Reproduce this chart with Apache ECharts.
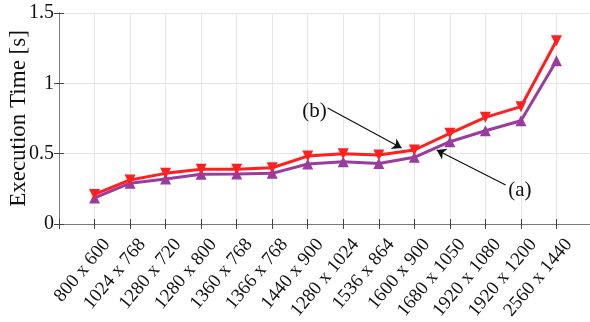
<!DOCTYPE html>
<html>
<head>
<meta charset="utf-8">
<script src="https://cdn.jsdelivr.net/npm/echarts@6/dist/echarts.min.js"></script>
<style>html,body{margin:0;padding:0;background:#fff}#c{width:590px;height:322px}</style>
</head>
<body>
<div id="c"></div>
<script>
var categories = ['800 x 600','1024 x 768','1280 x 720','1280 x 800','1360 x 768','1366 x 768','1440 x 900','1280 x 1024','1536 x 864','1600 x 900','1680 x 1050','1920 x 1080','1920 x 1200','2560 x 1440'];
var seriesB = [0.21,0.313,0.36,0.39,0.39,0.40,0.483,0.50,0.49,0.526,0.645,0.758,0.834,1.303];
var seriesA = [0.185,0.29,0.32,0.353,0.355,0.36,0.427,0.443,0.43,0.474,0.585,0.663,0.734,1.161];
var yTicks = [0, 0.5, 1, 1.5];
var annB = {text:'(b)', label:[7.19,0.80], from:[7.56,0.825], to:[9.64,0.54]};
var annA = {text:'(a)', label:[12.97,0.24], from:[12.57,0.277], to:[10.63,0.526]};

function pts(arr){ return arr.map(function(v,i){ return [i+1, v]; }); }
var font = 'Liberation Serif';
var chart = echarts.init(document.getElementById('c'));
function ann(a){
  return {
    markLine: {
      silent:true, animation:false, symbol:['none','arrow'], symbolSize:9,
      lineStyle:{color:'#111', width:1.2, type:'solid'}, label:{show:false},
      data:[[{coord:a.from},{coord:a.to}]]
    },
    markPoint: {
      silent:true, animation:false, symbol:'circle', symbolSize:1,
      itemStyle:{color:'rgba(0,0,0,0)'},
      label:{show:true, position:'inside', formatter:a.text, fontFamily:font, fontSize:21, color:'#111'},
      data:[{coord:a.label}]
    }
  };
}
var sB = {type:'line', name:'(b)', data:pts(seriesB), symbol:'triangle', symbolSize:11, symbolRotate:180,
  lineStyle:{color:'#ff1f1f', width:3}, itemStyle:{color:'#ff1f1f'}, z:3, animation:false};
var sA = {type:'line', name:'(a)', data:pts(seriesA), symbol:'triangle', symbolSize:11,
  lineStyle:{color:'#9a3c9e', width:3}, itemStyle:{color:'#9a3c9e'}, z:2, animation:false};
Object.assign(sB, ann(annB));
Object.assign(sA, ann(annA));

chart.setOption({
  animation:false,
  grid:{left:59, right:-2, top:13, bottom:98, containLabel:false, outerBoundsMode:'none'},
  xAxis:[{
    type:'value', min:0, max:categories.length+1, interval:1, position:'bottom',
    axisLine:{show:true, lineStyle:{color:'#7a7a7a', width:1}},
    axisTick:{show:true, inside:true, length:5, lineStyle:{color:'#444'}},
    splitLine:{show:true, lineStyle:{color:'#e6e6e6'}},
    axisLabel:{rotate:50, fontFamily:font, fontSize:19, color:'#111', margin:7,
      align:'right', verticalAlign:'top', lineHeight:32,
      formatter:function(v){ return (v>=1 && v<=categories.length) ? categories[v-1] : ''; }}
  },{
    type:'value', min:0, max:categories.length+1, interval:1, position:'top',
    axisLine:{show:true, lineStyle:{color:'#7a7a7a', width:1}},
    axisTick:{show:true, inside:true, length:5, lineStyle:{color:'#444'}},
    splitLine:{show:false}, axisLabel:{show:false}
  }],
  yAxis:[{
    type:'value', min:yTicks[0], max:yTicks[yTicks.length-1], interval:0.5, position:'left',
    name:'Execution Time [s]', nameLocation:'middle', nameGap:29, nameMoveOverlap:false,
    nameTextStyle:{fontFamily:font, fontSize:23, color:'#111'},
    axisLine:{show:true, lineStyle:{color:'#7a7a7a', width:1}},
    axisTick:{show:true, inside:true, length:5, lineStyle:{color:'#444'}},
    splitLine:{show:true, lineStyle:{color:'#e6e6e6'}},
    axisLabel:{fontFamily:font, fontSize:20, color:'#111', margin:5,
      formatter:function(v){ return String(v); }}
  },{
    type:'value', min:yTicks[0], max:yTicks[yTicks.length-1], interval:0.5, position:'right',
    axisLine:{show:true, lineStyle:{color:'#7a7a7a', width:1}},
    axisTick:{show:true, inside:true, length:5, lineStyle:{color:'#444'}},
    splitLine:{show:false}, axisLabel:{show:false}
  }],
  series:[sA, sB]
});
</script>
</body>
</html>
